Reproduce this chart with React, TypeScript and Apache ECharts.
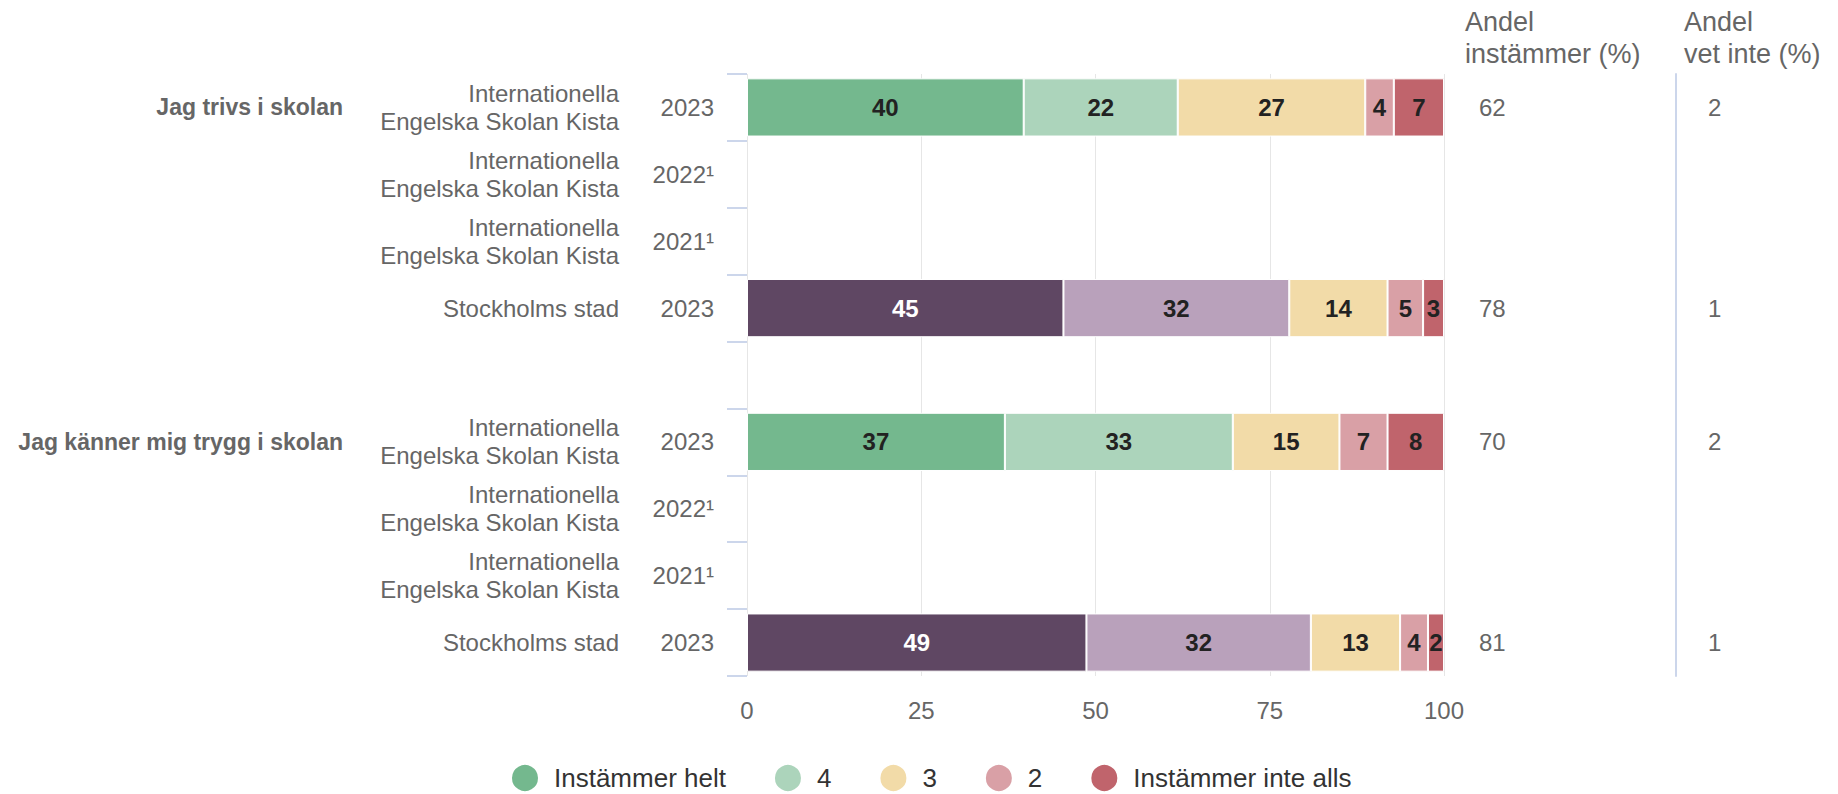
import React, { useEffect, useRef } from "react";
import * as echarts from "echarts";

const ISK = "Internationella\nEngelska Skolan Kista";
const CITY = "Stockholms stad";

const ROW_NAMES = [ISK, ISK, ISK, CITY, "", ISK, ISK, ISK, CITY];
const ROW_YEARS = ["2023", "2022¹", "2021¹", "2023", "", "2023", "2022¹", "2021¹", "2023"];
const GROUP_LABELS = ["Jag trivs i skolan", "", "", "", "", "Jag känner mig trygg i skolan", "", "", ""];

const SERIES_NAMES = ["Instämmer helt", "4", "3", "2", "Instämmer inte alls"];
const INSTAMMER_HELT = [39.7, null, null, 45.4, null, 37.0, null, null, 48.7];
const VALUE_4 = [22.1, null, null, 32.4, null, 32.7, null, null, 32.2];
const VALUE_3 = [26.9, null, null, 14.1, null, 15.3, null, null, 12.8];
const VALUE_2 = [4.1, null, null, 5.1, null, 6.9, null, null, 4.0];
const INSTAMMER_INTE_ALLS = [7.2, null, null, 3.0, null, 8.1, null, null, 2.3];

const ANDEL_INSTAMMER = [62, null, null, 78, null, 70, null, null, 81];
const ANDEL_VET_INTE = [2, null, null, 1, null, 2, null, null, 1];

const HEADER_INSTAMMER = ["Andel", "instämmer (%)"];
const HEADER_VET_INTE = ["Andel", "vet inte (%)"];

const X_MIN = 0;
const X_MAX = 100;
const X_INTERVAL = 25;

const SERIES_VALUES = [INSTAMMER_HELT, VALUE_4, VALUE_3, VALUE_2, INSTAMMER_INTE_ALLS];
const SERIES_COLORS = ["#74b88e", "#acd4bb", "#f2dba8", "#d9a0a6", "#c0646c"];
const CITY_COLORS = ["#5f4763", "#b9a1bb"];

const FONT = "'Liberation Sans', Arial, Helvetica, sans-serif";
const TEXT = "#666666";

export default function App() {
  const ref = useRef<HTMLDivElement>(null);

  useEffect(() => {
    if (!ref.current) return;
    const chart = echarts.init(ref.current, undefined, { renderer: "svg" });
    const keys = ROW_YEARS.map((_, i) => "r" + i);

    const baseCat = {
      type: "category" as const,
      data: keys,
      inverse: true,
      gridIndex: 0,
      axisLine: { show: false },
      axisTick: { show: false },
      splitLine: { show: false },
    };

    const series = SERIES_NAMES.map((name, si) => ({
      name,
      type: "bar",
      stack: "total",
      yAxisIndex: 0,
      barCategoryGap: "13%",
      itemStyle: { color: SERIES_COLORS[si], borderColor: "#ffffff", borderWidth: 1 },
      label: {
        show: true,
        position: "inside",
        fontFamily: FONT,
        fontSize: 24,
        fontWeight: "bold",
        color: "#222222",
        padding: [4, 0, 0, 0],
        formatter: (p: any) => String(Math.round(p.value)),
      },
      data: SERIES_VALUES[si].map((v, ri) => {
        if (v === null) return null;
        if (ROW_NAMES[ri] === CITY && si < CITY_COLORS.length) {
          return {
            value: v,
            itemStyle: { color: CITY_COLORS[si] },
            label: { color: si === 0 ? "#ffffff" : "#222222" },
          };
        }
        return v;
      }),
    }));

    const headerText = (lines: string[], left: number) =>
      lines.map((t, li) => ({
        type: "text",
        left,
        top: li === 0 ? 0 : 32,
        style: { text: t, fontFamily: FONT, fontSize: 27, lineHeight: 27, fill: TEXT },
      }));

    chart.setOption({
      animation: false,
      grid: { left: 739, right: 386, top: 66, bottom: 118, containLabel: false },
      xAxis: {
        type: "value",
        min: X_MIN,
        max: X_MAX,
        interval: X_INTERVAL,
        axisLine: { show: false },
        axisTick: { show: false },
        splitLine: { show: true, lineStyle: { color: "#e6e6e6", width: 1 } },
        axisLabel: { fontFamily: FONT, fontSize: 24, color: TEXT, margin: 22 },
      },
      yAxis: [
        {
          ...baseCat,
          position: "left",
          axisTick: { show: true, length: 20, lineStyle: { color: "#ccd6eb", width: 2 } },
          axisLabel: {
            interval: 0,
            margin: 33,
            fontFamily: FONT,
            fontSize: 24,
            color: TEXT,
            padding: [15, 0, 0, 0],
            formatter: (_: string, i: number) => ROW_YEARS[i],
          },
        },
        {
          ...baseCat,
          position: "left",
          axisLabel: {
            interval: 0,
            margin: 128,
            fontFamily: FONT,
            fontSize: 24,
            lineHeight: 28,
            color: TEXT,
            formatter: (_: string, i: number) => ROW_NAMES[i],
          },
        },
        {
          ...baseCat,
          position: "left",
          axisLabel: {
            interval: 0,
            margin: 404,
            fontFamily: FONT,
            fontSize: 23,
            fontWeight: "bold",
            color: TEXT,
            padding: [15, 0, 0, 0],
            formatter: (_: string, i: number) => GROUP_LABELS[i],
          },
        },
        {
          ...baseCat,
          position: "right",
          axisLabel: {
            interval: 0,
            margin: 35,
            fontFamily: FONT,
            fontSize: 24,
            color: TEXT,
            padding: [6, 0, 0, 0],
            formatter: (_: string, i: number) =>
              ANDEL_INSTAMMER[i] === null ? "" : String(ANDEL_INSTAMMER[i]),
          },
        },
        {
          ...baseCat,
          position: "right",
          offset: 232,
          axisLine: { show: true, lineStyle: { color: "#ccd6eb", width: 2 } },
          axisLabel: {
            interval: 0,
            margin: 32,
            fontFamily: FONT,
            fontSize: 24,
            color: TEXT,
            padding: [6, 0, 0, 0],
            formatter: (_: string, i: number) =>
              ANDEL_VET_INTE[i] === null ? "" : String(ANDEL_VET_INTE[i]),
          },
        },
      ],
      legend: {
        data: SERIES_NAMES,
        left: 502,
        top: 755,
        padding: 0,
        icon: "circle",
        itemWidth: 28,
        itemHeight: 28,
        itemGap: 47,
        textStyle: { fontFamily: FONT, fontSize: 26, color: "#333333", padding: [0, 0, 0, 10] },
      },
      graphic: [...headerText(HEADER_INSTAMMER, 1457), ...headerText(HEADER_VET_INTE, 1676)],
      series,
    });

    return () => chart.dispose();
  }, []);

  return <div ref={ref} style={{ width: 1822, height: 786 }} />;
}
